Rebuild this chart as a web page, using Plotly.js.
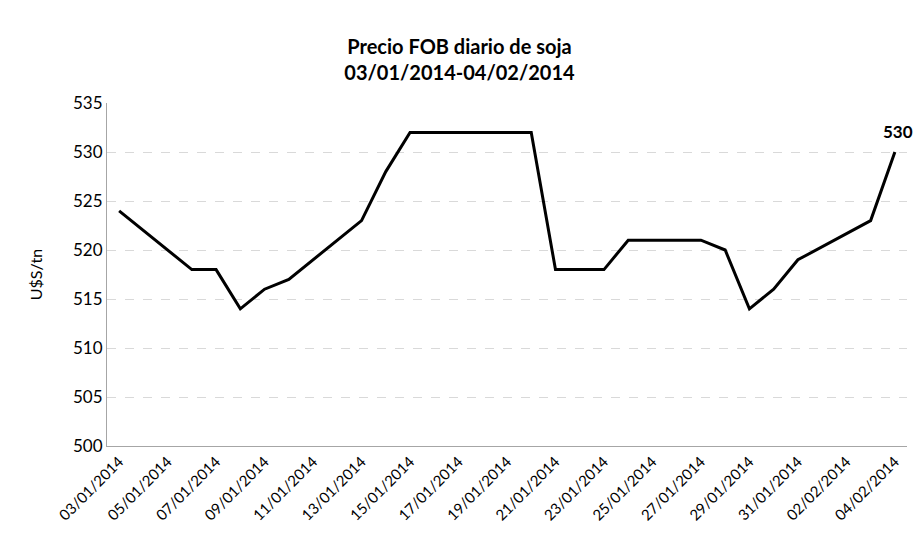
<!DOCTYPE html>
<html>
<head>
<meta charset="utf-8">
<script src="https://cdn.plot.ly/plotly-3.0.1.min.js"></script>
<style>html,body{margin:0;padding:0;background:#fff;}#chart{width:919px;height:536px;}</style>
</head>
<body>
<div id="chart"></div>
<script>
const dates = ["2014-01-03","2014-01-06","2014-01-07","2014-01-08","2014-01-09","2014-01-10",
  "2014-01-13","2014-01-14","2014-01-15","2014-01-16","2014-01-17","2014-01-20",
  "2014-01-21","2014-01-22","2014-01-23","2014-01-24","2014-01-27","2014-01-28",
  "2014-01-29","2014-01-30","2014-01-31","2014-02-03","2014-02-04"];
const prices = [524,518,518,514,516,517,523,528,532,532,532,532,518,518,518,521,521,520,514,516,519,523,530];
const titleText = "Precio FOB diario de soja<br>03/01/2014-04/02/2014";
const yTitle = "U$S/tn";
const font = "Lato, 'Open Sans', sans-serif";

const lastIdx = dates.length - 1;
Plotly.newPlot("chart", [{
  x: dates, y: prices, type: "scatter", mode: "lines",
  line: {color: "#000000", width: 3}, hoverinfo: "skip"
}], {
  width: 919, height: 536,
  margin: {l: 107, r: 12, t: 103, b: 90},
  paper_bgcolor: "#fff", plot_bgcolor: "#fff",
  showlegend: false,
  title: {text: titleText, x: 0.5, xanchor: "center", y: 0.9, yanchor: "middle",
    font: {family: font, size: 20, color: "#000", weight: "bold"}},
  xaxis: {
    type: "date",
    range: ["2014-01-02 12:00", "2014-02-04 12:00"],
    tick0: "2014-01-03", dtick: 2 * 86400000,
    tickformat: "%d/%m/%Y", tickangle: -45,
    tickfont: {family: font, size: 15, color: "#000"},
    showgrid: false, showline: true, linecolor: "#a6a6a6", linewidth: 1,
    ticks: "", zeroline: false, fixedrange: true
  },
  yaxis: {
    range: [500, 535], dtick: 5, tick0: 500,
    tickfont: {family: font, size: 17, color: "#000"},
    showgrid: true, gridcolor: "#d9d9d9", griddash: "dash", gridwidth: 1,
    showline: true, linecolor: "#a6a6a6", linewidth: 1,
    ticks: "", ticklen: 0, zeroline: false, fixedrange: true,
    title: {text: yTitle, standoff: 26, font: {family: font, size: 16, color: "#000"}}
  },
  annotations: [{
    x: dates[lastIdx], y: prices[lastIdx], xref: "x", yref: "y",
    text: "<b>" + prices[lastIdx] + "</b>", showarrow: false,
    yanchor: "bottom", xanchor: "center", yshift: 8, xshift: 3,
    font: {family: font, size: 17, color: "#000"}
  }]
}, {displayModeBar: false, staticPlot: true});
</script>
</body>
</html>
